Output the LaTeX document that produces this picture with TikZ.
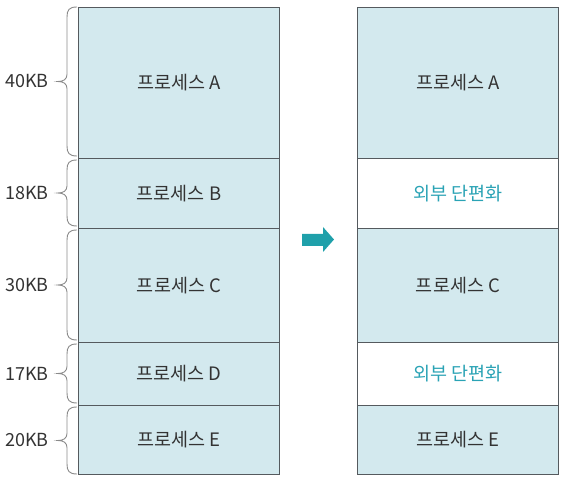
\documentclass[tikz,border=0pt]{standalone}
\usepackage{fontspec}
\setmainfont{Noto Sans CJK KR}
\definecolor{procfill}{HTML}{D3E9EE}
\definecolor{edge}{HTML}{555A5E}
\definecolor{teal}{HTML}{1FA0AA}
\definecolor{fragtext}{HTML}{2AA3B5}
\definecolor{bracegray}{HTML}{8A8A8A}
\definecolor{txt}{HTML}{333333}
\tikzset{
  blk/.style={draw=edge, line width=1pt, fill=procfill, anchor=north west, inner sep=0pt,
     minimum width=201pt, text=txt, font=\fontsize{18.5}{18.5}\selectfont},
  frag/.style={blk, fill=white, text=fragtext},
  sizelbl/.style={anchor=east, inner sep=0pt, text=txt, font=\fontsize{18}{18}\selectfont},
  bracestyle/.style={draw=bracegray, line width=0.9pt}
}
\newcommand{\mybrace}[3]{% top, bottom, mid (tikz y)
  \draw[bracestyle] (77,#1) .. controls (69,#1) and (67,#1-3) .. (67,#1-10) -- (67,#3+7)
     .. controls (67,#3+2) and (63,#3) .. (58,#3) .. controls (63,#3) and (67,#3-2) .. (67,#3-7)
     -- (67,#2+10) .. controls (67,#2+3) and (69,#2) .. (77,#2);}
\begin{document}
\begin{tikzpicture}[x=1pt,y=1pt]
\useasboundingbox (0,0) rectangle (566,479);
% left column
\node[blk, minimum height=151pt] (la) at (78,472) {프로세스 A};
\node[blk, minimum height=70pt] (lb) at (78,321) {프로세스 B};
\node[blk, minimum height=114pt] (lc) at (78,251) {프로세스 C};
\node[blk, minimum height=63pt] (ld) at (78,137) {프로세스 D};
\node[blk, minimum height=69pt] (le) at (78,74) {프로세스 E};
% right column
\node[blk, minimum height=151pt] (ra) at (357,472) {프로세스 A};
\node[frag, minimum height=70pt] (rb) at (357,321) {외부 단편화};
\node[blk, minimum height=114pt] (rc) at (357,251) {프로세스 C};
\node[frag, minimum height=63pt] (rd) at (357,137) {외부 단편화};
\node[blk, minimum height=69pt] (re) at (357,74) {프로세스 E};
% braces
\mybrace{472}{323}{397.5}
\mybrace{319}{253}{286}
\mybrace{249}{139}{194}
\mybrace{135}{76}{105.5}
\mybrace{72}{5}{38.5}
% size labels
\node[sizelbl] (sa) at (49,397.5) {40KB};
\node[sizelbl] (sb) at (49,286) {18KB};
\node[sizelbl] (sc) at (49,194) {30KB};
\node[sizelbl] (sd) at (49,105.5) {17KB};
\node[sizelbl] (se) at (49,38.5) {20KB};
% arrow
\fill[teal] (302,245) -- (323,245) -- (323,252) -- (334,239.5) -- (323,227) -- (323,233) -- (302,233) -- cycle;
\end{tikzpicture}
\end{document}
